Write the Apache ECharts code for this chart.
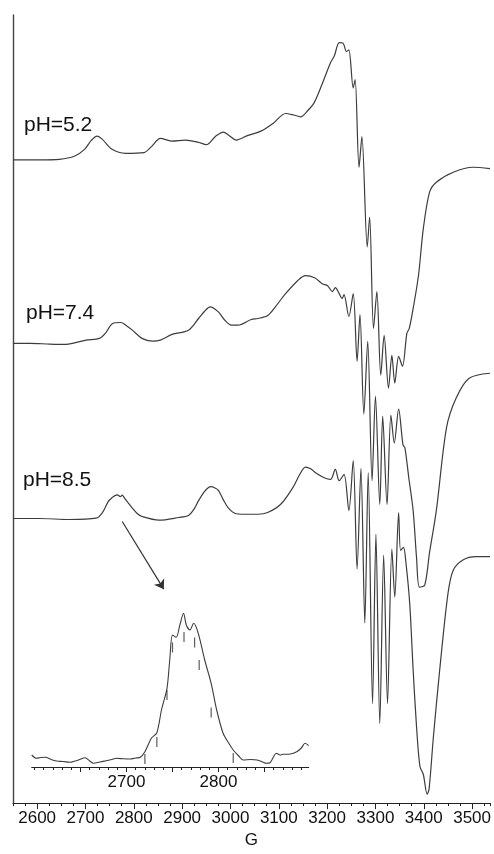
<!DOCTYPE html>
<html>
<head>
<meta charset="utf-8">
<script src="https://cdn.jsdelivr.net/npm/echarts@6/dist/echarts.min.js"></script>
<style>
  html, body { margin: 0; padding: 0; background: #fff; }
  #chart { width: 494px; height: 854px; }
</style>
</head>
<body>
<div id="chart"></div>
<script>
// EPR spectra (field in gauss, first-derivative signal in arbitrary units)
const traceLabels = ['pH=5.2', 'pH=7.4', 'pH=8.5'];
const traceOffsets = [647, 462, 286];

const fieldPH52 = [2550, 2605, 2646, 2677, 2698, 2712, 2724, 2735, 2755, 2783, 2821, 2837, 2855, 2878, 2907, 2934, 2950, 2969, 2985, 2997, 3012, 3036, 3063, 3088, 3114, 3131, 3145, 3160, 3173, 3190, 3207, 3215, 3225, 3233, 3240, 3245, 3254, 3258, 3266, 3272, 3283, 3288, 3296, 3303, 3311, 3318, 3327, 3334, 3340, 3348, 3356, 3365, 3370, 3378, 3389, 3399, 3412, 3426, 3461, 3502, 3537];
const signalPH52 = [-0.5, -0.5, 0, 3, 10, 19, 23.3, 20, 10, 6, 6.7, 13, 21, 18.3, 19.3, 17, 14.7, 23, 27.3, 24, 19.3, 24, 28.3, 36, 46, 44.5, 42.7, 49, 56.7, 76, 97, 104, 117.3, 116.7, 108.3, 110, 71.7, 80, -8, 22.7, -88, -58, -170, -133, -217, -177, -230, -197, -225, -198, -208, -175, -170, -150, -117, -70, -33, -23, -13, -8, -9.3];

const fieldPH74 = [2550, 2585, 2626, 2660, 2701, 2729, 2741, 2756, 2773, 2784, 2797, 2817, 2838, 2855, 2879, 2913, 2934, 2946, 2958, 2975, 2987, 3002, 3016, 3043, 3057, 3077, 3098, 3114, 3139, 3155, 3174, 3190, 3201, 3211, 3217, 3225, 3231, 3235, 3245, 3254, 3262, 3268, 3276, 3284, 3293, 3300, 3309, 3315, 3324, 3332, 3339, 3348, 3357, 3361, 3369, 3378, 3385, 3391, 3402, 3412, 3426, 3447, 3467, 3494, 3537];
const signalPH74 = [0, 0, -0.7, -1, 3.3, 5, 10, 20, 21, 18, 13.3, 5, 2.3, 3.3, 9, 13.3, 25, 32, 36.7, 31.7, 24, 18.3, 18.3, 24, 25, 28, 40, 50, 63, 68, 66, 60, 58, 52, 56, 50, 45, 49, 27, 50, -18, 29, -71, 2, -138, -53, -162, -73, -162, -72, -100, -66, -102, -105, -135, -168, -215, -245, -243, -210, -168, -85, -55, -35, -30];

const fieldPH85 = [2550, 2605, 2667, 2722, 2735, 2747, 2755, 2761, 2766, 2772, 2776, 2780, 2788, 2796, 2807, 2817, 2852, 2893, 2913, 2924, 2934, 2946, 2954, 2960, 2967, 2975, 2985, 2995, 3009, 3030, 3057, 3077, 3104, 3129, 3143, 3155, 3166, 3176, 3194, 3207, 3217, 3225, 3235, 3245, 3254, 3262, 3270, 3278, 3285, 3294, 3301, 3309, 3317, 3325, 3334, 3340, 3348, 3352, 3358, 3363, 3371, 3378, 3385, 3392, 3399, 3407, 3411, 3420, 3433, 3450, 3461, 3481, 3508, 3537];
const signalPH85 = [0, 0, -1, 0.3, 6, 17, 21, 23, 23.7, 22, 23.5, 21, 16, 11, 5, 2, -1.7, 1, 3, 9, 18, 27, 31, 32, 31, 28.3, 19, 11, 5.3, 4.3, 4.3, 6, 14.3, 31, 44, 51.7, 50, 46, 41, 39.3, 49.3, 38, 44.3, 8, 58.3, -50.7, 50.3, -105, 46, -186, -16, -206, -37, -186, -31, -79, 6, -32, -29, -44, -86, -152, -209, -249, -257, -277, -272, -219, -152, -75.7, -52, -41.7, -38.3, -38.3];

// Expanded low-field line of the pH 8.5 spectrum
const insetField = [2597, 2602, 2607, 2612, 2618, 2624, 2631, 2639, 2644, 2648, 2655, 2660, 2664, 2671, 2678, 2684, 2689, 2697, 2704, 2710, 2715, 2720, 2727, 2733, 2738, 2744, 2747, 2750, 2754, 2758, 2762, 2765, 2769, 2773, 2778, 2785, 2792, 2798, 2805, 2811, 2816, 2822, 2827, 2835, 2842, 2848, 2852, 2856, 2863, 2867, 2870, 2878, 2885, 2890, 2894, 2898];
const insetSignal = [12, 8.7, 9.5, 9.7, 7.5, 6, 5.5, 4.7, 6, 7, 9.3, 6, 3.7, 5, 6.3, 7.5, 8.7, 8.2, 8, 9, 9.7, 15.3, 28.7, 34.3, 57, 78.7, 107, 132, 129.7, 142, 153.7, 142, 137, 143.7, 133.7, 107, 83.7, 57, 33.7, 24, 17, 11, 7, 7.5, 7, 5, 3.7, 4.3, 13.7, 12, 12.7, 13, 15.3, 19, 23.7, 21.3];

// Hyperfine line positions marked on the expanded line
const stickField = [2720, 2733, 2744, 2750, 2762.5, 2774, 2779, 2792, 2816];
const stickSignal = [8, 25, 72, 119.5, 130, 124.5, 102, 54.5, 9];

const mainMajorTicks = [2600, 2700, 2800, 2900, 3000, 3100, 3200, 3300, 3400, 3500];
const insetLabelTicks = [2700, 2800];
const insetMajorTicks = [2650, 2700, 2750, 2800, 2850];
const insetMinorTicks = [];
for (let v = 2600; v <= 2890; v += 10) insetMinorTicks.push(v);

const fields = [fieldPH52, fieldPH74, fieldPH85];
const signals = [signalPH52, signalPH74, signalPH85];

const FONT = '"Liberation Sans", Arial, Helvetica, sans-serif';
const INK = '#3c3c3c';
const plain = v => String(v);

const chart = echarts.init(document.getElementById('chart'), null, { renderer: 'canvas' });

const traceSeries = fields.map((f, k) => ({
  type: 'line',
  xAxisIndex: 0,
  yAxisIndex: 0,
  showSymbol: false,
  smooth: 0.3,
  lineStyle: { color: INK, width: 1.2 },
  data: f.map((x, i) => [x, traceOffsets[k] + signals[k][i]]),
  z: 3
}));

const baseAxis = {
  type: 'value', position: 'bottom', min: 2550, max: 3537, splitLine: { show: false }
};

const option = {
  animation: false,
  backgroundColor: '#fff',
  grid: [
    { left: 13, right: 0, top: 15, bottom: 47 },
    { left: 31.7, top: 600, width: 277, height: 167 }
  ],
  xAxis: [
    Object.assign({}, baseAxis, {
      gridIndex: 0, interval: 25,
      axisLine: { show: true, lineStyle: { color: '#222', width: 1.2 } },
      axisTick: { show: true, length: 3, lineStyle: { color: '#222', width: 1 } },
      axisLabel: { customValues: mainMajorTicks, formatter: plain, fontSize: 17, color: '#111', fontFamily: FONT, margin: 7 },
      name: 'G', nameLocation: 'middle', nameGap: 23,
      nameTextStyle: { fontSize: 17, color: '#111', fontFamily: FONT }
    }),
    Object.assign({}, baseAxis, {
      gridIndex: 0,
      axisLine: { show: false },
      axisTick: { show: true, customValues: mainMajorTicks, length: 6, lineStyle: { color: '#222', width: 1 } },
      axisLabel: { show: false }
    }),
    {
      type: 'value', gridIndex: 1, position: 'bottom', min: 2597, max: 2898, splitLine: { show: false },
      axisLine: { show: true, lineStyle: { color: '#222', width: 1 } },
      axisTick: { show: true, customValues: insetMinorTicks, length: 3, lineStyle: { color: '#222', width: 1 } },
      axisLabel: { customValues: insetLabelTicks, formatter: plain, fontSize: 17, color: '#111', fontFamily: FONT, margin: 7 }
    },
    {
      type: 'value', gridIndex: 1, position: 'bottom', min: 2597, max: 2898, splitLine: { show: false },
      axisLine: { show: false },
      axisTick: { show: true, customValues: insetMajorTicks, length: 5, lineStyle: { color: '#222', width: 1 } },
      axisLabel: { show: false }
    }
  ],
  yAxis: [
    {
      type: 'value', gridIndex: 0, min: 0, max: 792,
      axisLine: { show: true, lineStyle: { color: '#444', width: 1.4 } },
      axisTick: { show: false }, axisLabel: { show: false }, splitLine: { show: false }
    },
    {
      type: 'value', gridIndex: 1, min: 0, max: 167, show: false
    }
  ],
  series: traceSeries.concat([
    {
      type: 'line',
      xAxisIndex: 2,
      yAxisIndex: 1,
      showSymbol: false,
      smooth: 0.3,
      lineStyle: { color: INK, width: 1.1 },
      data: insetField.map((x, i) => [x, insetSignal[i]])
    },
    {
      type: 'scatter',
      xAxisIndex: 2,
      yAxisIndex: 1,
      symbol: 'rect',
      symbolSize: [1.2, 10],
      itemStyle: { color: '#333' },
      data: stickField.map((x, i) => [x, stickSignal[i]]),
      z: 4
    },
    {
      // pointer from the pH 8.5 low-field line to its expansion
      type: 'lines',
      coordinateSystem: 'cartesian2d',
      xAxisIndex: 0,
      yAxisIndex: 0,
      symbol: ['none', 'arrow'],
      symbolSize: 9,
      lineStyle: { color: '#333', width: 1.2, opacity: 1, curveness: 0 },
      data: [{ coords: [[2776, 283], [2862, 215]] }]
    }
  ]),
  graphic: traceLabels.map((t, k) => ({
    type: 'text',
    left: [24, 26, 23][k],
    top: [115, 303, 470][k],
    style: { text: t, font: '21px ' + FONT, fill: '#111' }
  }))
};

chart.setOption(option);
</script>
</body>
</html>
